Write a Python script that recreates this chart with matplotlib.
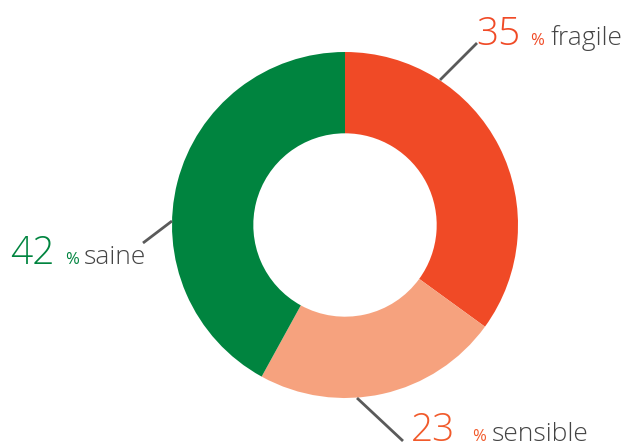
import matplotlib.pyplot as plt

# chart data
labels = ["fragile", "sensible", "saine"]
values = [35, 23, 42]
colors = ["#F04A26", "#F6A27E", "#00843F"]
num_colors = ["#F04A26", "#F15A2B", "#00843F"]

W, H = 624, 447
fig = plt.figure(figsize=(W / 100, H / 100), dpi=100)
ax = fig.add_axes([0, 0, 1, 1])
ax.set_xlim(0, W)
ax.set_ylim(0, H)
ax.set_aspect("equal")
ax.axis("off")

cx, cy, r = 345, H - 225, 173
ax.pie(values, colors=colors, startangle=90, counterclock=False,
       center=(cx, cy), radius=r, wedgeprops=dict(width=r * 0.47, linewidth=0))
ax.set_xlim(0, W)
ax.set_ylim(0, H)

# leader lines (pixel coords, y from top)
leaders = [((440, 80), (477, 43)), ((357, 398), (403, 441)), ((172, 221), (143, 243))]
for (x0, y0), (x1, y1) in leaders:
    ax.plot([x0, x1], [H - y0, H - y1], color="#5a5a5a", lw=2, solid_capstyle="butt")

# label pieces: (x of number, x of %, x of word, baseline y)
spots = [(476, 530, 551, 45), (411, 472, 492, 441), (10, 65, 84, 264)]
font = "Open Sans"
for lab, v, c, (xn, xp, xw, yb) in zip(labels, values, num_colors, spots):
    ax.text(xn, H - yb, str(v), color=c, fontsize=28, family=font,
            weight="light", va="baseline")
    ax.text(xp, H - yb, "%", color=c, fontsize=12, family=font, va="baseline")
    ax.text(xw, H - yb, lab, color="#444444", fontsize=19, family=font,
            weight="light", va="baseline")

fig.savefig("out.png", dpi=100)
